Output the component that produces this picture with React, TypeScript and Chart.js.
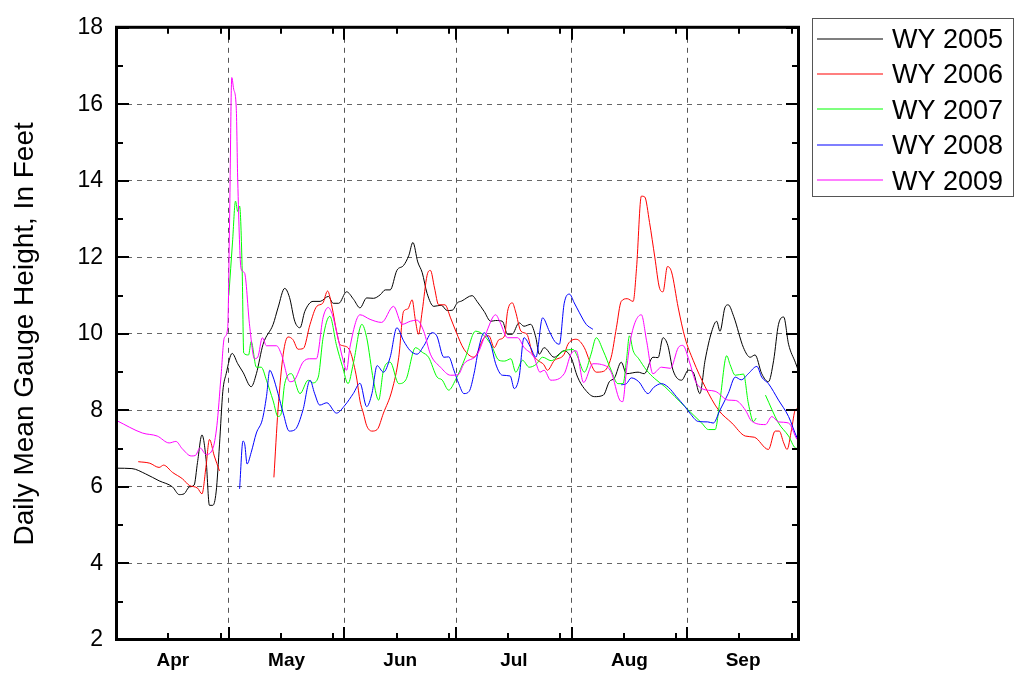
import React, { useEffect, useRef } from 'react';
import { Chart, registerables } from 'chart.js';

Chart.register(...registerables);

const FONT = "'Liberation Sans', Arial, Helvetica, sans-serif";

// ---- axis definitions (days counted from Apr 1) ----
const monthLabels = ['Apr', 'May', 'Jun', 'Jul', 'Aug', 'Sep'];
const monthStartDays = [0, 30, 61, 91, 122, 153, 183];
const minorTickDays = [13.8, 27.9, 44, 58, 75, 89, 105, 119, 136, 150, 167, 181];
const yMin = 2;
const yMax = 18;

// ---- series ----
const seriesNames = ['WY 2005', 'WY 2006', 'WY 2007', 'WY 2008', 'WY 2009'];

const wy2005Days = [0, 4, 7.7, 11.3, 14.9, 16.7, 18, 19.4, 20.7, 21.6, 22.8, 23.9, 24.8, 25.7, 26.6, 27.5, 28.4, 29.3, 30.9, 32.4, 33.8, 36, 37.4, 39.2, 41.9, 43.2, 45, 46.3, 47.7, 49.1, 50.4, 52.6, 54.5, 56.7, 58, 59.5, 61.6, 63.5, 65.2, 67, 68.8, 70.6, 72, 73.3, 75.1, 76.9, 78.3, 79.4, 80.7, 81.9, 83.2, 85, 87, 88.6, 90, 91.3, 92.5, 95.3, 96.6, 98.5, 100.3, 101.6, 103.4, 104.8, 106, 107.9, 109.2, 111, 112.4, 113.3, 114.6, 117.3, 120, 121.8, 123.6, 125.4, 128.1, 130.5, 132.1, 133.5, 135.3, 136.7, 139.8, 141.5, 143.8, 145.2, 146.5, 147.8, 149.2, 151.5, 153.3, 154.6, 156.4, 157.8, 159.6, 160.9, 161.8, 163.1, 164, 165.5, 168.1, 169.9, 171.2, 173, 174.8, 176.2, 177.5, 178.9, 180.2, 182, 183];
const wy2005Gauge = [6.49, 6.48, 6.34, 6.16, 6.0, 5.8, 5.82, 6.0, 6.05, 6.64, 7.36, 6.72, 5.52, 5.52, 5.87, 7.1, 8.5, 8.96, 9.49, 9.22, 9.0, 8.62, 8.96, 9.73, 10.25, 10.68, 11.19, 10.95, 10.33, 10.16, 10.59, 10.85, 10.85, 10.98, 10.8, 10.8, 11.1, 10.9, 10.68, 10.94, 10.93, 11.02, 11.15, 11.15, 11.66, 11.79, 12.05, 12.39, 11.88, 11.6, 11.06, 10.72, 10.75, 10.61, 10.62, 10.81, 10.86, 11.0, 10.85, 10.59, 10.33, 10.35, 10.33, 9.99, 9.99, 10.29, 10.2, 10.25, 9.9, 9.47, 9.64, 9.39, 9.56, 9.39, 8.87, 8.57, 8.36, 8.4, 8.75, 8.85, 9.26, 8.96, 9.0, 8.96, 9.39, 9.38, 9.9, 9.7, 9.05, 8.79, 9.05, 9.0, 8.44, 9.31, 10.07, 10.33, 10.07, 10.68, 10.76, 10.45, 9.64, 9.39, 9.45, 8.96, 8.75, 9.31, 10.25, 10.44, 9.73, 9.26, 9.0];

const wy2006Days = [5.7, 8.8, 11.3, 12.5, 14.9, 17.6, 19.4, 21.6, 22.8, 23.9, 24.8, 26.1, 27.5, 35, 42.1, 43.2, 44.6, 45.9, 47.2, 48.6, 50, 51.8, 53.6, 55.2, 56.5, 57.7, 58.9, 59.8, 60.7, 62.5, 63.9, 64.4, 65.2, 66.1, 67, 68.4, 69.8, 71.5, 73.8, 75.6, 76.9, 78, 79.2, 80, 80.9, 81.9, 83.2, 84.1, 85.2, 86.3, 88, 89.5, 91, 93.1, 95.8, 98.5, 99.8, 101.2, 102.5, 104, 104.8, 106.1, 106.9, 108.4, 110, 111.5, 112.9, 114.5, 115.5, 117.3, 120, 121, 123.2, 125.4, 126.8, 128.6, 130.5, 132.6, 134, 135.3, 136.9, 138.5, 139.4, 140.7, 141.6, 142.9, 144.3, 145.6, 146.5, 147.7, 148.8, 150.6, 152.4, 154.6, 157.8, 161.4, 165, 168.6, 171, 174.8, 176.6, 177.7, 178.9, 179.8, 181, 182, 183];
const wy2006Gauge = [6.66, 6.62, 6.51, 6.57, 6.38, 6.21, 6.04, 5.97, 5.82, 6.55, 7.24, 6.81, 6.42, null, 6.25, 8.01, 9.47, 9.92, 9.85, 9.6, 9.62, 10.25, 10.72, 10.8, 11.12, 10.7, 10.07, 9.73, 9.69, 9.56, 9.05, 8.79, 8.25, 7.93, 7.6, 7.46, 7.5, 7.93, 8.53, 9.39, 10.59, 10.65, 10.89, 10.4, 9.99, 10.6, 11.53, 11.66, 11.2, 10.76, 10.76, 10.42, 10.05, 9.6, 9.39, 9.9, 9.95, 9.64, 9.85, 9.95, 10.59, 10.81, 10.6, 10.07, 9.99, 9.47, 9.31, 9.2, 9.05, 9.3, 9.47, 9.73, 9.86, 9.64, 9.3, 9.0, 9.02, 9.39, 10.16, 10.85, 10.92, 10.85, 11.71, 13.6, 13.58, 12.91, 12.01, 11.19, 11.1, 11.76, 11.62, 10.68, 9.9, 9.31, 8.62, 8.01, 7.67, 7.33, 7.3, 6.98, 7.46, 7.46, 7.15, 6.98, 7.5, 8.01, 8.05];

const wy2007Days = [30, 31, 31.8, 32.4, 32.9, 33.6, 34, 35.3, 36, 37.4, 38.7, 40.1, 41.9, 43.2, 44, 45, 46.8, 49.1, 51.3, 52.5, 54, 55.3, 57.1, 58.9, 60.5, 62, 63.4, 65.7, 67, 68.8, 70.2, 71.5, 73.3, 75.6, 77.5, 80.1, 81.9, 83.6, 85.9, 87.2, 89, 90.8, 93.5, 96.2, 98, 100.3, 102.5, 104, 105.7, 107, 108.8, 110.6, 112.4, 114.2, 116.5, 120, 122.4, 123.6, 125.4, 127.2, 128.6, 130.5, 132.6, 134.4, 135.8, 136.7, 137.5, 138.5, 140, 142.1, 144.3, 147, 149.7, 153.3, 156.9, 158.7, 160.5, 161.8, 163.6, 164.5, 165.9, 168.1, 169.4, 170.8, 171.5, 172.8, 174, 177.5, 180.2, 182, 183];
const wy2007Gauge = [11.0, 12.4, 13.47, 13.2, 13.34, 11.62, 9.5, 9.45, 9.8, 9.13, 9.13, 8.79, 8.25, 7.84, 7.9, 8.7, 8.96, 8.44, 8.79, 8.72, 8.87, 9.9, 10.46, 9.7, 9.15, 8.7, 9.22, 10.25, 9.9, 8.79, 8.27, 9.05, 9.26, 8.7, 8.8, 9.64, 9.52, 9.39, 8.87, 8.8, 8.53, 8.79, 9.39, 10.07, 10.0, 9.73, 9.31, 9.29, 9.35, 9.0, 9.31, 9.13, 9.2, 9.39, 9.3, 9.56, 9.59, 9.4, 9.0, 9.47, 9.9, 9.55, 9.05, 8.7, 8.7, 9.31, 9.95, 9.56, 9.35, 9.05, 8.83, 8.62, 8.36, 8.01, 7.67, 7.5, 7.5, 8.27, 9.43, 9.2, 8.92, 8.95, 8.19, 7.71, 7.8, null, 8.4, 7.67, 7.33, 7.02, 7.0];

const wy2008Days = [32.9, 33.8, 34.3, 34.9, 36, 37.4, 39, 40.1, 41, 41.8, 43.2, 44.6, 46.2, 47.8, 49.9, 51.8, 53, 54.4, 56.3, 58.9, 61.2, 63.4, 65.2, 67, 68.4, 69.8, 71.5, 73.3, 75.1, 76.9, 78.7, 80.5, 82.4, 84.5, 85.8, 87.7, 89, 90.4, 91.7, 93.1, 94.5, 95.8, 97.1, 98.5, 100.3, 101.6, 103.4, 105.5, 106.6, 107.9, 109.2, 111, 112.4, 114.2, 116, 117.5, 118.7, 120, 121.4, 122.7, 124.1, 125.9, 127.7, 131, 135.3, 136.7, 138, 140, 142.5, 144, 146.1, 148, 150.1, 152.4, 153.7, 156, 158.5, 160, 161.8, 164, 165.9, 167.5, 169.4, 171.7, 173, 174.8, 177.5, 180.2, 182.5, 183];
const wy2008Gauge = [5.95, 7.2, 7.1, 6.6, 6.9, 7.41, 7.76, 8.36, 9.05, 8.9, 8.44, 7.93, 7.46, 7.5, 8.01, 8.79, 8.45, 8.14, 8.2, 7.93, 8.14, 8.44, 8.71, 8.1, 8.44, 9.17, 9.0, 9.39, 10.16, 9.82, 9.56, 9.47, 9.7, 10.03, 9.95, 9.39, 9.4, 9.05, 8.7, 8.44, 8.5, 8.96, 9.64, 10.03, 9.73, 9.22, 8.92, 8.9, 8.57, 8.87, 9.9, 9.64, 9.39, 10.42, 10.07, 9.8, 9.73, 10.8, 11.04, 10.81, 10.55, 10.25, 10.12, null, 8.67, 8.7, 8.85, 8.75, 8.44, 8.6, 8.7, 8.6, 8.36, 8.1, 7.93, 7.71, 7.7, 7.67, 8.01, 8.44, 8.87, 8.8, 8.96, 9.15, 8.87, 8.7, 8.27, 7.84, 7.28, 7.2];

const wy2009Days = [0, 6.8, 10.8, 14, 15.8, 17.5, 19.9, 21, 22.3, 23.9, 25.7, 26.8, 27.9, 28.8, 29.7, 30.2, 30.8, 31.3, 32, 32.4, 33.3, 34.2, 35.6, 36.9, 37.8, 39, 40.1, 42.8, 44.1, 46.4, 47.5, 49.9, 51.7, 53.5, 55.3, 56.7, 57.8, 58.9, 60.7, 61.6, 62.5, 65.2, 67.9, 71, 74.2, 76.5, 78.7, 80.5, 82.3, 84.1, 86.8, 89.5, 91.5, 93.1, 96.7, 98.9, 101.6, 102.8, 104.8, 107.5, 109.2, 111.9, 113.5, 114.6, 116.4, 120, 121.8, 123.2, 125.2, 127.7, 130, 132.6, 134.9, 135.7, 136.7, 138, 140.7, 142.1, 143.8, 146.1, 148.5, 150.6, 151.8, 153.7, 155.1, 156.9, 160.5, 164, 166, 168.6, 170.3, 174, 175.7, 177.5, 180.2, 182.5, 183];
const wy2009Gauge = [7.73, 7.41, 7.33, 7.15, 7.19, 7.0, 6.81, 6.82, 7.02, 6.85, 7.0, 7.6, 8.88, 9.9, 10.15, 12.9, 16.7, 16.4, 15.9, 14.0, 11.7, 11.6, 10.2, 9.35, 9.4, 9.9, 9.69, 9.69, 9.47, 8.75, 8.78, 9.26, 9.35, 9.35, 10.43, 10.69, 10.5, 10.07, 9.3, 9.05, 9.65, 10.5, 10.38, 10.3, 10.72, 10.25, 10.33, 10.36, 10.07, 9.47, 9.13, 8.92, 8.93, 9.22, 9.47, 9.99, 10.5, 10.3, 9.9, 9.9, 9.65, 9.39, 9.0, 9.05, 8.79, 8.96, 9.47, 9.56, 8.73, 9.22, 9.2, 9.0, 8.27, 8.23, 9.05, 9.95, 10.5, 9.82, 8.96, 9.13, 9.1, 9.64, 9.7, 9.24, 8.79, 8.57, 8.5, 8.27, 8.26, 8.01, 7.72, 7.63, 7.84, 7.7, 7.67, 7.24, 7.2];

const seriesDays = [wy2005Days, wy2006Days, wy2007Days, wy2008Days, wy2009Days];
const seriesGauge = [wy2005Gauge, wy2006Gauge, wy2007Gauge, wy2008Gauge, wy2009Gauge];
const seriesColors = ['#000000', '#ff0000', '#00ff00', '#0000ff', '#ff00ff'];

const monthMidDays = monthLabels.map((_, i) => (monthStartDays[i] + monthStartDays[i + 1]) / 2);
const xTickValues = [...monthStartDays, ...monthMidDays].sort((a, b) => a - b);
const interiorMonthStarts = monthStartDays.slice(1, -1);

const frameAndLegendPlugin = {
  id: 'frameAndLegend',
  afterDatasetsDraw(chart: any) {
    const { ctx, chartArea: a, scales } = chart;
    const xs = scales.x;
    const ys = scales.y;
    ctx.save();
    ctx.strokeStyle = '#000';
    ctx.lineWidth = 3;
    ctx.strokeRect(a.left - 0.5, a.top - 0.5, a.right - a.left, a.bottom - a.top);

    ctx.lineWidth = 2;
    ctx.beginPath();
    for (let v = yMin; v <= yMax; v += 1) {
      const py = Math.round(ys.getPixelForValue(v));
      const len = v % 2 === 0 ? 12 : 6;
      ctx.moveTo(a.left, py);
      ctx.lineTo(a.left + len, py);
      ctx.moveTo(a.right - 1, py);
      ctx.lineTo(a.right - 1 - len, py);
    }
    const drawX = (d: number, len: number) => {
      const px = Math.round(xs.getPixelForValue(d));
      ctx.moveTo(px, a.bottom - 1);
      ctx.lineTo(px, a.bottom - 1 - len);
      ctx.moveTo(px, a.top);
      ctx.lineTo(px, a.top + len);
    };
    interiorMonthStarts.forEach((d) => drawX(d, 12));
    minorTickDays.forEach((d) => drawX(d, 6));
    ctx.stroke();
    ctx.restore();
  },
  afterDraw(chart: any) {
    const { ctx } = chart;
    ctx.save();
    ctx.strokeStyle = '#555';
    ctx.lineWidth = 1;
    ctx.strokeRect(812.5, 18.5, 201, 178);
    ctx.font = `27px ${FONT}`;
    ctx.textBaseline = 'alphabetic';
    ctx.textAlign = 'left';
    seriesNames.forEach((name, i) => {
      const y = 38.5 + i * 35.4;
      ctx.strokeStyle = seriesColors[i];
      ctx.lineWidth = 1.2;
      ctx.beginPath();
      ctx.moveTo(817, Math.round(y));
      ctx.lineTo(883, Math.round(y));
      ctx.stroke();
      ctx.fillStyle = '#000';
      ctx.fillText(name, 892, y + 9.5);
    });
    ctx.restore();
  },
};

export default function App() {
  const canvasRef = useRef<HTMLCanvasElement | null>(null);

  useEffect(() => {
    document.body.style.margin = '0';
    const canvas = canvasRef.current;
    if (!canvas) return;
    const datasets = seriesNames.map((name, i) => ({
      label: name,
      data: seriesDays[i].map((d, j) => ({ x: d, y: seriesGauge[i][j] })),
      borderColor: seriesColors[i],
      backgroundColor: seriesColors[i],
      borderWidth: 1,
      pointRadius: 0,
      fill: false,
      spanGaps: false,
      cubicInterpolationMode: 'monotone' as const,
      order: seriesNames.length - 1 - i,
    }));

    const chart = new Chart(canvas, {
      type: 'line',
      data: { datasets },
      options: {
        responsive: false,
        maintainAspectRatio: false,
        animation: false,
        layout: { padding: { left: 0, top: 20, right: 218, bottom: 0 } },
        plugins: {
          legend: { display: false },
          tooltip: { enabled: false },
        },
        scales: {
          x: {
            type: 'linear',
            min: 0,
            max: 183,
            afterBuildTicks: (scale: any) => {
              scale.ticks = xTickValues.map((v) => ({ value: v }));
            },
            afterFit: (scale: any) => {
              scale.height = 37;
            },
            ticks: {
              autoSkip: false,
              maxRotation: 0,
              minRotation: 0,
              padding: 9,
              color: '#000',
              font: { family: FONT, size: 19, weight: 'bold' },
              callback: (value: any) => {
                const i = monthMidDays.indexOf(Number(value));
                return i >= 0 ? monthLabels[i] : '';
              },
            },
            grid: {
              drawTicks: false,
              lineWidth: 1,
              color: (c: any) =>
                c.tick && interiorMonthStarts.includes(c.tick.value) ? '#555' : 'rgba(0,0,0,0)',
            },
            border: { display: false, dash: [5, 5] },
          },
          y: {
            type: 'linear',
            min: yMin,
            max: yMax,
            afterFit: (scale: any) => {
              scale.width = 117;
            },
            ticks: {
              stepSize: 2,
              padding: 14,
              color: '#000',
              font: { family: FONT, size: 23 },
            },
            grid: {
              drawTicks: false,
              lineWidth: 1,
              color: (c: any) =>
                c.tick && (c.tick.value === yMin || c.tick.value === yMax) ? 'rgba(0,0,0,0)' : '#666',
            },
            border: { display: false, dash: [5, 5] },
            title: {
              display: true,
              text: 'Daily Mean Gauge Height, In Feet',
              color: '#000',
              font: { family: FONT, size: 28 },
              padding: { top: 8, bottom: 0 },
            },
          },
        },
      },
      plugins: [frameAndLegendPlugin],
    });

    return () => {
      chart.destroy();
    };
  }, []);

  return (
    <div style={{ position: 'fixed', left: 0, top: 0, width: 1017, height: 677, background: '#fff' }}>
      <canvas ref={canvasRef} width={1017} height={677} style={{ display: 'block' }} />
    </div>
  );
}
